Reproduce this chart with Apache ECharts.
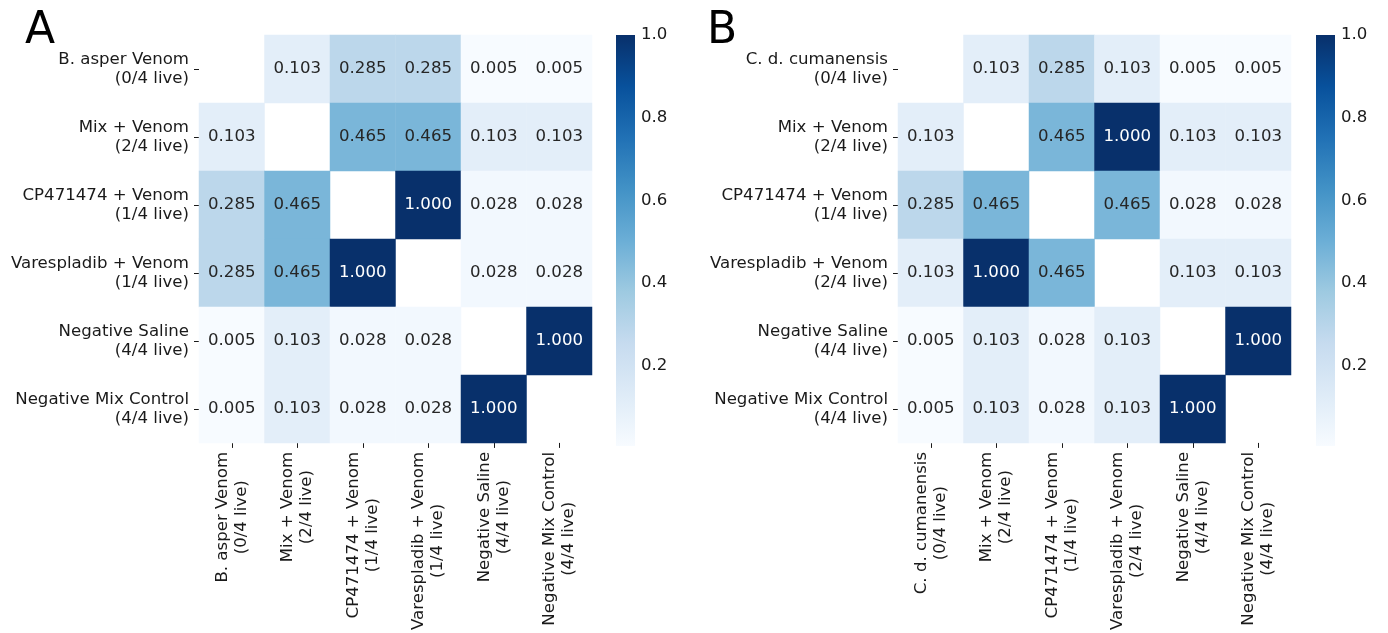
<!DOCTYPE html>
<html>
<head>
<meta charset="utf-8">
<script src="https://cdn.jsdelivr.net/npm/echarts@6/dist/echarts.min.js"></script>
<style>
  html, body { margin: 0; padding: 0; background: #fff; }
  #chart { width: 1388px; height: 633px; }
</style>
</head>
<body>
<div id="chart"></div>
<script>
// Group labels for each panel (row and column order are the same)
const groupsA = [
  'B. asper Venom\n(0/4 live)',
  'Mix + Venom\n(2/4 live)',
  'CP471474 + Venom\n(1/4 live)',
  'Varespladib + Venom\n(1/4 live)',
  'Negative Saline\n(4/4 live)',
  'Negative Mix Control\n(4/4 live)'
];
const groupsB = [
  'C. d. cumanensis\n(0/4 live)',
  'Mix + Venom\n(2/4 live)',
  'CP471474 + Venom\n(1/4 live)',
  'Varespladib + Venom\n(2/4 live)',
  'Negative Saline\n(4/4 live)',
  'Negative Mix Control\n(4/4 live)'
];

// Pairwise p-values; the diagonal is left empty
const pvalsA = [
  [null, 0.103, 0.285, 0.285, 0.005, 0.005],
  [0.103, null, 0.465, 0.465, 0.103, 0.103],
  [0.285, 0.465, null, 1.000, 0.028, 0.028],
  [0.285, 0.465, 1.000, null, 0.028, 0.028],
  [0.005, 0.103, 0.028, 0.028, null, 1.000],
  [0.005, 0.103, 0.028, 0.028, 1.000, null]
];
const pvalsB = [
  [null, 0.103, 0.285, 0.103, 0.005, 0.005],
  [0.103, null, 0.465, 1.000, 0.103, 0.103],
  [0.285, 0.465, null, 0.465, 0.028, 0.028],
  [0.103, 1.000, 0.465, null, 0.103, 0.103],
  [0.005, 0.103, 0.028, 0.103, null, 1.000],
  [0.005, 0.103, 0.028, 0.103, 1.000, null]
];

// Colour scale range and colour bar ticks
const scaleRange = [0.005, 1.0];
const colorbarTicks = [0.2, 0.4, 0.6, 0.8, 1.0];

// matplotlib "Blues" colour map stops
const blues = ['#f7fbff', '#deebf7', '#c6dbef', '#9ecae1', '#6baed6',
               '#4292c6', '#2171b5', '#08519c', '#08306b'];

const FONT = 'DejaVu Sans';
const INK = '#1a1a1a';
const FS = 16.6;

function toCells(matrix) {
  const out = [];
  matrix.forEach((row, r) => {
    row.forEach((v, c) => {
      if (v === null) return;
      out.push({
        value: [c, r, v],
        label: { color: v > 0.6 ? '#ffffff' : '#262626' }
      });
    });
  });
  return out;
}

// Multi-line tick labels with lines centred inside the block
function centred(s) {
  return s.split('\n').map(t => '{c|' + t + '}').join('\n');
}

const chart = echarts.init(document.getElementById('chart'), null, { renderer: 'canvas' });

const heatGrids = [
  { left: 199, top: 35, width: 393, height: 411 },
  { left: 898, top: 35, width: 393, height: 411 }
];
const barGrids = [
  { left: 616, top: 35, width: 19, height: 411 },
  { left: 1316, top: 35, width: 19, height: 411 }
];

function catX(gridIndex, cats) {
  return {
    type: 'category', gridIndex, data: cats, position: 'bottom',
    axisLine: { show: false },
    axisTick: { show: true, alignWithLabel: true, length: 5, lineStyle: { color: INK, width: 1 } },
    splitLine: { show: false },
    axisLabel: {
      interval: 0, rotate: 90, margin: 9, color: INK, fontFamily: FONT, fontSize: FS,
      lineHeight: 19,
      formatter: centred,
      rich: { c: { align: 'center', fontFamily: FONT, fontSize: FS, color: INK, lineHeight: 19 } }
    }
  };
}
function catY(gridIndex, cats) {
  return {
    type: 'category', gridIndex, data: cats, inverse: true,
    axisLine: { show: false },
    axisTick: { show: true, alignWithLabel: true, length: 5, lineStyle: { color: INK, width: 1 } },
    splitLine: { show: false },
    axisLabel: {
      interval: 0, margin: 10, color: INK, fontFamily: FONT, fontSize: FS, lineHeight: 19, align: 'right'
    }
  };
}
function barX(gridIndex) {
  return { type: 'value', gridIndex, min: 0, max: 1, show: false };
}
function barY(gridIndex) {
  return {
    type: 'value', gridIndex, min: scaleRange[0], max: scaleRange[1], position: 'right',
    axisLine: { show: false },
    splitLine: { show: false },
    axisTick: { show: true, length: 4, customValues: colorbarTicks, lineStyle: { color: INK, width: 1 } },
    axisLabel: {
      margin: 6, color: INK, fontFamily: FONT, fontSize: FS,
      customValues: colorbarTicks,
      formatter: v => v.toFixed(1)
    }
  };
}

function heatSeries(idx, matrix) {
  return {
    type: 'heatmap', xAxisIndex: idx, yAxisIndex: idx,
    data: toCells(matrix),
    label: {
      show: true, fontFamily: FONT, fontSize: FS,
      formatter: p => p.value[2].toFixed(3)
    },
    itemStyle: { borderWidth: 0 },
    emphasis: { disabled: true },
    progressive: 0
  };
}

function colorbarSeries(idx) {
  return {
    type: 'custom', xAxisIndex: 2 + idx, yAxisIndex: 2 + idx,
    data: [[0, scaleRange[0], 1, scaleRange[1]]],
    silent: true,
    clip: false,
    renderItem: function (params, api) {
      const lo = api.coord([api.value(0), api.value(1)]);
      const hi = api.coord([api.value(2), api.value(3)]);
      const stops = blues.map((c, i) => ({ offset: i / (blues.length - 1), color: c }));
      return {
        type: 'rect',
        shape: { x: lo[0], y: hi[1], width: hi[0] - lo[0], height: lo[1] - hi[1] },
        style: { fill: new echarts.graphic.LinearGradient(0, 1, 0, 0, stops) }
      };
    }
  };
}

chart.setOption({
  backgroundColor: '#ffffff',
  animation: false,
  textStyle: { fontFamily: FONT },
  title: [
    { text: 'A', left: 20, top: 5, textStyle: { fontFamily: FONT, fontSize: 44, fontWeight: 'normal', color: '#000' } },
    { text: 'B', left: 702, top: 5, textStyle: { fontFamily: FONT, fontSize: 44, fontWeight: 'normal', color: '#000' } }
  ],
  grid: heatGrids.concat(barGrids),
  xAxis: [catX(0, groupsA), catX(1, groupsB), barX(2), barX(3)],
  yAxis: [catY(0, groupsA), catY(1, groupsB), barY(2), barY(3)],
  visualMap: {
    show: false, type: 'continuous', seriesIndex: [0, 1], dimension: 2,
    min: scaleRange[0], max: scaleRange[1],
    inRange: { color: blues }
  },
  series: [
    heatSeries(0, pvalsA),
    heatSeries(1, pvalsB),
    colorbarSeries(0),
    colorbarSeries(1)
  ]
});
</script>
</body>
</html>
